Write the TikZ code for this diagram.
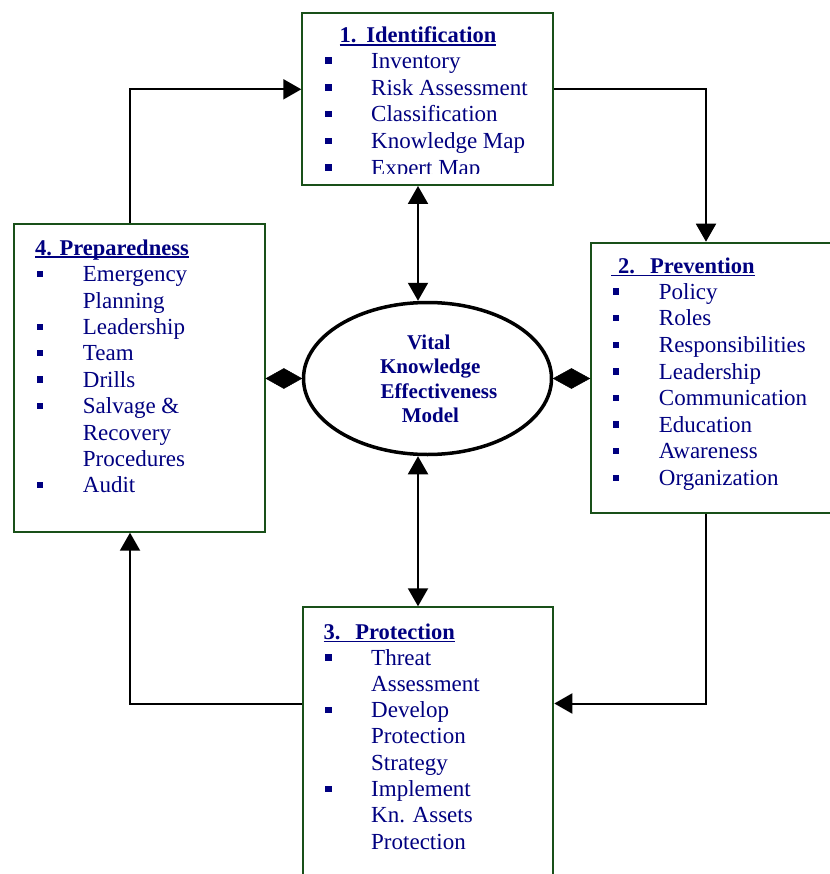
\documentclass[tikz,border=0pt]{standalone}
\usepackage{fontspec}
\setmainfont{Liberation Serif}
\usetikzlibrary{arrows.meta,shapes.geometric,calc}
\definecolor{navy}{RGB}{0,0,128}
\definecolor{boxgreen}{RGB}{25,80,25}
\newcommand\bl{\makebox[46pt][l]{\rule[4.5pt]{6.5pt}{6.5pt}}}
\newcommand\ulx[1]{\setbox0\hbox{#1}\rlap{\rule[-3pt]{\wd0}{1.6pt}}\box0}
\tikzset{
  box/.style={draw=boxgreen, line width=2pt, fill=white, rectangle, inner sep=0pt},
  item/.style={anchor=base west, inner sep=0pt, text=navy, font=\fontsize{23}{27}\selectfont},
  title/.style={anchor=base west, inner sep=0pt, text=navy, font=\fontsize{22.5}{27}\selectfont\bfseries},
  etext/.style={anchor=base, inner sep=0pt, text=navy, font=\fontsize{21}{24.6}\selectfont\bfseries},
  conn/.style={draw=black, line width=2pt, -{Triangle[length=18pt,width=20pt]}},
  dbl/.style={draw=black, line width=2pt, {Triangle[length=18pt,width=20pt]}-{Triangle[length=18pt,width=20pt]}},
  dia/.style={fill=black, draw=black, line width=0.5pt, line join=miter}
}
\begin{document}
\begin{tikzpicture}[x=1pt,y=-1pt]
\useasboundingbox (0,0) rectangle (829,874);
% boxes
\node[box, minimum width=251pt, minimum height=172.3pt] (b1) at (427.8,98.85) {};
\node[box, minimum width=259.3pt, minimum height=270pt] (b2) at (720.35,377.7) {};
\node[box, minimum width=250.6pt, minimum height=292.7pt] (b3) at (428,753.65) {};
\node[box, minimum width=251pt, minimum height=307.7pt] (b4) at (139.5,377.85) {};
% ellipse
\node[ellipse, draw=black, line width=3.5pt, fill=white, minimum width=248pt, minimum height=152pt, inner sep=0pt] (ell) at (427.5,378.5) {};
\node[etext] (e1) at (428.8,349) {Vital};
\node[etext] (e2) at (430.3,373.3) {Knowledge};
\node[etext] (e3) at (439,398.3) {Effectiveness};
\node[etext] (e4) at (430.4,422.7) {Model};
% helper coordinates
\coordinate (lx) at (130,0);
\coordinate (rx) at (706,0);
\coordinate (vx) at (418,0);
\coordinate (ty) at (0,89.3);
\coordinate (by) at (0,703.5);
% loop connectors
\draw[conn] (lx |- b4.north) |- (b1.west |- ty);
\draw[conn] (b1.east |- ty) -| (rx |- b2.north);
\draw[conn] (rx |- b2.south) |- (b3.east |- by);
\draw[conn] (b3.west |- by) -| (lx |- b4.south);
% center connectors
\draw[dbl] (vx |- b1.south) -- (vx |- ell.north);
\draw[dbl] (vx |- ell.south) -- (vx |- b3.north);
\coordinate (dl1) at (b4.east |- ell.west);
\coordinate (dl2) at (ell.west);
\coordinate (dr1) at (ell.east);
\coordinate (dr2) at (b2.west |- ell.east);
\draw[dia] (dl1) -- ($(dl1)!0.5!(dl2)+(0,-10)$) -- (dl2) -- ($(dl1)!0.5!(dl2)+(0,10)$) -- cycle;
\draw[dia] (dr1) -- ($(dr1)!0.5!(dr2)+(0,-10)$) -- (dr2) -- ($(dr1)!0.5!(dr2)+(0,10)$) -- cycle;
% box 1
\node[title] (h1) at (339.3,43) {\ulx{1.\hspace{10pt}Identification}};
\begin{scope}
\clip (300,10) rectangle (556,174);
\node[item] (i11) at (325,68.3) {\bl Inventory};
\node[item] (i12) at (325,95.1) {\bl Risk Assessment};
\node[item] (i13) at (325,121.9) {\bl Classification};
\node[item] (i14) at (325,148.7) {\bl Knowledge Map};
\node[item] (i15) at (325,175.5) {\bl Expert Map};
\end{scope}
% box 2
\node[title] (h2) at (611,273.3) {\ulx{\hspace{7pt}2.\hspace{15pt}Prevention}};
\node[item] (i21) at (612.7,299.3) {\bl Policy};
\node[item] (i22) at (612.7,325.9) {\bl Roles};
\node[item] (i23) at (612.7,352.5) {\bl Responsibilities};
\node[item] (i24) at (612.7,379.1) {\bl Leadership};
\node[item] (i25) at (612.7,405.7) {\bl Communication};
\node[item] (i26) at (612.7,432.3) {\bl Education};
\node[item] (i27) at (612.7,458.9) {\bl Awareness};
\node[item] (i28) at (612.7,485.5) {\bl Organization};
% box 3
\node[title] (h3) at (323.3,639.3) {\ulx{3.\hspace{15pt}Protection}};
\node[item] (i31) at (325,665) {\bl Threat};
\node[item] (i32) at (371,691.3) {Assessment};
\node[item] (i33) at (325,717.6) {\bl Develop};
\node[item] (i34) at (371,743.9) {Protection};
\node[item] (i35) at (371,770.2) {Strategy};
\node[item] (i36) at (325,796.5) {\bl Implement};
\node[item] (i37) at (371,822.8) {Kn. Assets};
\node[item] (i38) at (371,849.1) {Protection};
% box 4
\node[title] (h4) at (35,255) {\ulx{4. Preparedness}};
\node[item] (i41) at (36.7,281.7) {\bl Emergency};
\node[item] (i42) at (82.7,308.1) {Planning};
\node[item] (i43) at (36.7,334.5) {\bl Leadership};
\node[item] (i44) at (36.7,360.9) {\bl Team};
\node[item] (i45) at (36.7,387.3) {\bl Drills};
\node[item] (i46) at (36.7,413.7) {\bl Salvage \&};
\node[item] (i47) at (82.7,440.1) {Recovery};
\node[item] (i48) at (82.7,466.5) {Procedures};
\node[item] (i49) at (36.7,492.9) {\bl Audit};
\end{tikzpicture}
\end{document}
